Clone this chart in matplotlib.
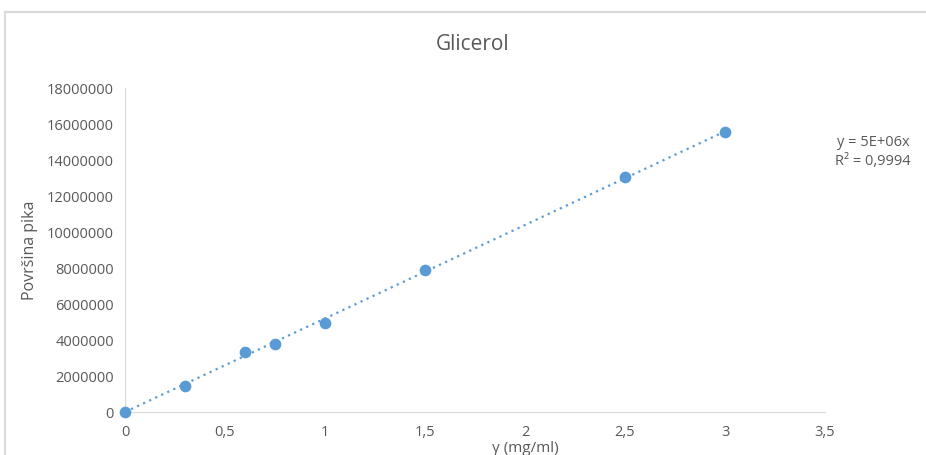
import matplotlib.pyplot as plt
import numpy as np

# concentration (mg/ml) and peak area
conc = [0, 0.3, 0.6, 0.75, 1.0, 1.5, 2.5, 3.0]
area = [0, 1440000, 3340000, 3790000, 4940000, 7890000, 13060000, 15560000]

x_ticks = [0, 0.5, 1, 1.5, 2, 2.5, 3, 3.5]
x_labels = ["0", "0,5", "1", "1,5", "2", "2,5", "3", "3,5"]
y_ticks = list(range(0, 18000001, 2000000))

plt.rcParams['font.family'] = ['Open Sans', 'DejaVu Sans']
gray = "#595959"
blue = "#5b9bd5"

fig = plt.figure(figsize=(9.26, 4.55), dpi=100)
ax = fig.add_axes([125 / 926, 1 - 412 / 455, 700 / 926, 324 / 455])

# linear trendline through origin
x = np.array(conc)
y = np.array(area)
slope = (x * y).sum() / (x * x).sum()
xt = np.array([0, max(conc)])
ax.plot(xt, slope * xt, linestyle=(0, (1, 2)), color=blue, lw=1.6, zorder=2)
ax.scatter(conc, area, s=55, color=blue, zorder=3, clip_on=False)

ax.set_xlim(0, 3.5)
ax.set_ylim(0, 18000000)
ax.set_xticks(x_ticks)
ax.set_xticklabels(x_labels)
ax.set_yticks(y_ticks)
ax.set_yticklabels([str(v) for v in y_ticks])
ax.tick_params(length=0, colors=gray, labelsize=10.5, pad=8)
ax.tick_params(axis='x', pad=9)

for s in ["top", "right"]:
    ax.spines[s].set_visible(False)
for s in ["left", "bottom"]:
    ax.spines[s].set_color("#d9d9d9")

fig.text(473 / 926, 1 - 45 / 455, "Glicerol", ha="center", va="center",
         fontsize=15, color=gray)
fig.text(30 / 926, 1 - 250 / 455, "Površina pika", rotation=90, ha="center",
         va="center", fontsize=11.5, color=gray)
fig.text(525 / 926, 1 - 448 / 455, "γ (mg/ml)", ha="center", va="center",
         fontsize=11, color=gray)
fig.text(873 / 926, 1 - 152 / 455, "y = 5E+06x\nR² = 0,9994", ha="center",
         va="center", fontsize=10.5, color=gray, linespacing=1.45)

# chart frame
fig.add_artist(plt.Line2D([5 / 926, 1], [1 - 12 / 455] * 2, color="#d9d9d9", lw=1.5))
fig.add_artist(plt.Line2D([5 / 926] * 2, [0, 1 - 12 / 455], color="#d9d9d9", lw=1.5))

fig.savefig("out.png", dpi=100)
